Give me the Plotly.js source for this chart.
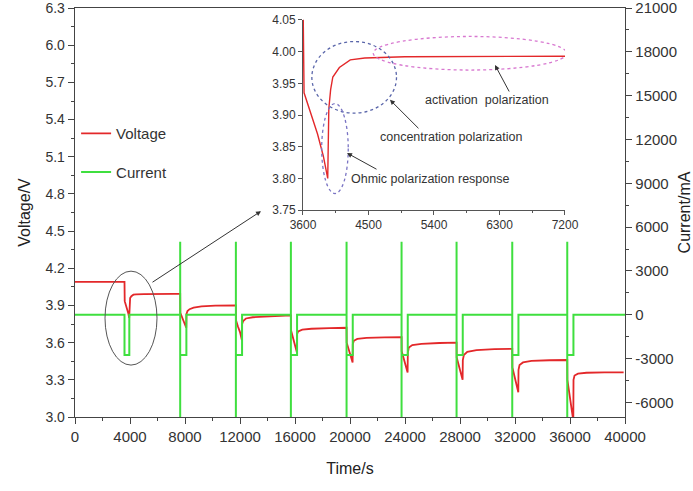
<!DOCTYPE html>
<html>
<head>
<meta charset="utf-8">
<script src="https://cdn.plot.ly/plotly-3.0.1.min.js"></script>
<style>html,body{margin:0;padding:0;background:#fff;}#chart{width:693px;height:491px;}</style>
</head>
<body>
<div id="chart"></div>
<script>
// ---- data ----
var voltageTime = [0,3600,3615,3700,3800,3880,3940,3955,3980,4010,4100,4250,4450,5000,7200,7650,
  7660,7800,7950,8090,8105,8180,8330,8630,9200,10200,11700,
  11710,11850,12000,12140,12155,12230,12430,12930,14000,15700,
  15710,15850,16000,16140,16155,16230,16530,17200,18500,19750,
  19760,19900,20050,20190,20205,20280,20530,21200,22500,23750,
  23760,23900,24050,24190,24205,24280,24530,25200,26500,27750,
  27760,27900,28050,28190,28205,28280,28530,29200,30500,31800,
  31810,31950,32100,32240,32255,32330,32580,33200,34500,35800,
  35810,35950,36100,36240,36255,36330,36580,37200,38500,39900];
var voltageValue = [4.09,4.09,3.935,3.905,3.87,3.835,3.80,3.91,3.94,3.96,3.975,3.987,3.99,3.992,3.993,3.993,
  3.84,3.80,3.765,3.72,3.83,3.855,3.87,3.882,3.892,3.898,3.90,
  3.78,3.73,3.685,3.62,3.75,3.775,3.795,3.805,3.813,3.82,
  3.70,3.64,3.59,3.52,3.67,3.69,3.705,3.712,3.717,3.72,
  3.60,3.54,3.50,3.44,3.59,3.615,3.63,3.638,3.643,3.645,
  3.53,3.47,3.42,3.36,3.52,3.56,3.58,3.59,3.597,3.60,
  3.48,3.42,3.37,3.30,3.46,3.50,3.525,3.54,3.547,3.55,
  3.40,3.33,3.27,3.20,3.38,3.42,3.44,3.453,3.458,3.46,
  3.30,3.18,3.08,2.97,3.30,3.335,3.35,3.357,3.36,3.36];

var dischargeStart = [3600,7650,11700,15700,19750,23750,27750,31800,35800];
var dischargeEnd   = [3950,8100,12150,16150,20200,24200,28200,32250,36250];
var hasSpike       = [false,true,true,true,true,true,true,true,true];
var spikeHigh = 5000;      // mA
var spikeLow = -7000;      // mA
var dischargeLevel = -2750; // mA
var restLevel = 0;
var timeEnd = 40000;

var xTickVals = [0,4000,8000,12000,16000,20000,24000,28000,32000,36000,40000];
var xTickText = ['0','4000','8000','12000','16000','20000','24000','28000','32000','36000','40000'];
var yTickVals = [3.0,3.3,3.6,3.9,4.2,4.5,4.8,5.1,5.4,5.7,6.0,6.3];
var yTickText = ['3.0','3.3','3.6','3.9','4.2','4.5','4.8','5.1','5.4','5.7','6.0','6.3'];
var y2TickVals = [-6000,-3000,0,3000,6000,9000,12000,15000,18000,21000];
var y2TickText = ['-6000','-3000','0','3000','6000','9000','12000','15000','18000','21000'];
var insetXTicks = [3600,4500,5400,6300,7200];

// ---- build current trace from the pulse table ----
var currentTime = [0], currentValue = [restLevel];
for (var i = 0; i < dischargeStart.length; i++) {
  currentTime.push(dischargeStart[i]); currentValue.push(restLevel);
  if (hasSpike[i]) {
    currentTime.push(dischargeStart[i]); currentValue.push(spikeHigh);
    currentTime.push(dischargeStart[i]); currentValue.push(spikeLow);
  }
  currentTime.push(dischargeStart[i]); currentValue.push(dischargeLevel);
  currentTime.push(dischargeEnd[i]); currentValue.push(dischargeLevel);
  currentTime.push(dischargeEnd[i]); currentValue.push(restLevel);
}
currentTime.push(timeEnd); currentValue.push(restLevel);

var RED = '#e3282a', GREEN = '#3fdf3f';
var FONT = 'Liberation Sans, Arial, sans-serif';

var traces = [
  {x: currentTime, y: currentValue, xaxis: 'x', yaxis: 'y2', type: 'scatter', mode: 'lines',
   name: 'Current', line: {color: GREEN, width: 2}, legendgroup: 'b', legendrank: 2},
  {x: voltageTime, y: voltageValue, xaxis: 'x', yaxis: 'y', type: 'scatter', mode: 'lines',
   name: 'Voltage', line: {color: RED, width: 1.8}, legendgroup: 'a', legendrank: 1},
  {x: voltageTime, y: voltageValue, xaxis: 'x2', yaxis: 'y3', type: 'scatter', mode: 'lines',
   name: 'Voltage (inset)', showlegend: false, line: {color: RED, width: 1.4}}
];

var axisLine = '#444';
var layout = {
  width: 693, height: 491,
  margin: {l: 75, r: 68, t: 8, b: 74},
  paper_bgcolor: '#fff', plot_bgcolor: '#fff',
  font: {family: FONT, size: 14, color: '#333'},
  showlegend: true,
  legend: {x: 0.002, y: 0.733, xanchor: 'left', yanchor: 'top', bgcolor: 'rgba(0,0,0,0)',
           font: {size: 15, color: '#333'}, traceorder: 'grouped', tracegroupgap: 16},
  xaxis: {domain: [0, 1], range: [0, 40000], tickvals: xTickVals, ticktext: xTickText, ticks: 'outside', ticklen: 6,
          tickcolor: axisLine, showline: true, linecolor: axisLine, linewidth: 1.3, mirror: true,
          showgrid: false, zeroline: false, tickfont: {size: 15}, ticklabeloverflow: 'allow',
          minor: {dtick: 2000, ticklen: 3, ticks: 'outside', tickcolor: axisLine, showgrid: false},
          title: {text: 'Time/s', font: {size: 16, color: '#222'}, standoff: 18}},
  yaxis: {range: [3.0, 6.3005], tickvals: yTickVals, ticktext: yTickText, ticks: 'outside', ticklen: 6,
          tickcolor: axisLine, showline: true, linecolor: axisLine, linewidth: 1.3,
          showgrid: false, zeroline: false, tickfont: {size: 14}, ticklabeloverflow: 'allow',
          minor: {dtick: 0.15, tick0: 3.0, ticklen: 3, ticks: 'outside', tickcolor: axisLine, showgrid: false},
          title: {text: 'Voltage/V', font: {size: 16, color: '#222'}, standoff: 10}},
  yaxis2: {range: [-7000, 21005], tickvals: y2TickVals, ticktext: y2TickText,
           overlaying: 'y', side: 'right', anchor: 'x', ticks: 'outside', ticklen: 6, tickcolor: axisLine,
           showline: true, linecolor: axisLine, linewidth: 1.3, showgrid: false, zeroline: false,
           tickfont: {size: 15}, ticklabeloverflow: 'allow',
           minor: {dtick: 1500, tick0: 0, ticklen: 3, ticks: 'outside', tickcolor: axisLine, showgrid: false},
           title: {text: 'Current/mA', font: {size: 16, color: '#222'}, standoff: 2}},
  xaxis2: {domain: [0.4145, 0.8909], anchor: 'y3', range: [3600, 7200], tickvals: insetXTicks,
           ticks: 'outside', ticklen: 4, tickcolor: '#555', showline: true, linecolor: '#555', linewidth: 1,
           showgrid: false, zeroline: false, tickfont: {size: 12},
           minor: {dtick: 450, tick0: 3600, ticklen: 2, ticks: 'outside', tickcolor: '#555', showgrid: false}},
  yaxis3: {domain: [0.506, 0.971], anchor: 'x2', range: [3.75, 4.0502], dtick: 0.05, tick0: 3.75,
           tickformat: '.2f', ticks: 'outside', ticklen: 4, tickcolor: '#555', showline: true,
           linecolor: '#555', linewidth: 1, showgrid: false, zeroline: false, tickfont: {size: 12}},
  shapes: [
    {type: 'circle', xref: 'x', yref: 'y', x0: 2182, x1: 5964, y0: 3.419, y1: 4.177,
     line: {color: '#555', width: 1}},
    {type: 'circle', xref: 'x2', yref: 'y3', x0: 3722, x1: 4885, y0: 3.903, y1: 4.016,
     line: {color: '#5a66aa', width: 1.3, dash: 'dot'}},
    {type: 'circle', xref: 'x2', yref: 'y3', x0: 4566, x1: 7223, y0: 3.971, y1: 4.024,
     line: {color: '#d878d0', width: 1.3, dash: 'dot'}},
    {type: 'circle', xref: 'x2', yref: 'y3', x0: 3857, x1: 4222, y0: 3.776, y1: 3.918,
     line: {color: '#7a74c4', width: 1.3, dash: 'dot'}}
  ],
  annotations: [
    {xref: 'x', yref: 'y', x: 13527, y: 4.661, ax: -110, ay: 72, text: '', showarrow: true,
     arrowhead: 2, arrowsize: 1, arrowwidth: 1, arrowcolor: '#333'},
    {xref: 'x2', yref: 'y3', x: 6238, y: 3.979, ax: 15, ay: 28, text: '', showarrow: true,
     arrowhead: 2, arrowsize: 1, arrowwidth: 1, arrowcolor: '#333'},
    {xref: 'x2', yref: 'y3', x: 4795, y: 3.924, ax: 30, ay: 30, text: '', showarrow: true,
     arrowhead: 2, arrowsize: 1, arrowwidth: 1, arrowcolor: '#333'},
    {xref: 'x2', yref: 'y3', x: 4205, y: 3.84, ax: 31, ay: 17, text: '', showarrow: true,
     arrowhead: 2, arrowsize: 1, arrowwidth: 1, arrowcolor: '#333'},
    {xref: 'x2', yref: 'y3', x: 6128, y: 3.924, text: 'activation  polarization', showarrow: false,
     font: {size: 12.5, color: '#333'}},
    {xref: 'x2', yref: 'y3', x: 5634, y: 3.865, text: 'concentration polarization', showarrow: false,
     font: {size: 12.5, color: '#333'}},
    {xref: 'x2', yref: 'y3', x: 5345, y: 3.799, text: 'Ohmic polarization response', showarrow: false,
     font: {size: 12.5, color: '#333'}}
  ]
};

Plotly.newPlot('chart', traces, layout, {displayModeBar: false, staticPlot: true});
</script>
</body>
</html>
